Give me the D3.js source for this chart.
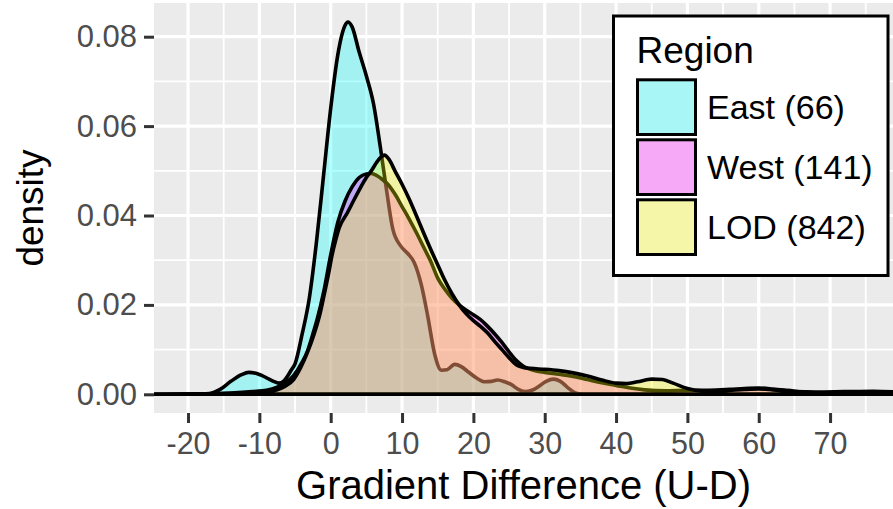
<!DOCTYPE html>
<html><head><meta charset="utf-8">
<script src="https://cdn.jsdelivr.net/npm/d3@7"></script>
<style>body{margin:0;background:#fff} svg{display:block} text{font-family:"Liberation Sans",Arial,Helvetica,sans-serif}</style>
</head><body><svg id="chart" width="893" height="509"></svg>
<script>
// ---- data ----
const xTicks = [-20, -10, 0, 10, 20, 30, 40, 50, 60, 70];
const yTicks = [0, 0.02, 0.04, 0.06, 0.08];
const yTickLabels = ["0.00", "0.02", "0.04", "0.06", "0.08"];
const regions = ["East (66)", "West (141)", "LOD (842)"];
const regionColors = ["#00FFFF", "#FF00FF", "#FFFF00"];

const eastX = [-25, -20, -17, -15.5, -14, -12.5, -11.5, -10.5, -9, -8, -7.3, -6.5, -5.5, -5, -4, -3, -2, -1, 0, 1, 2, 2.4, 3, 4, 5, 6, 7, 7.8, 8.7, 9.8, 10.8, 11.7, 12.7, 13.6, 14.6, 15.5, 16.3, 17.4, 18.3, 19.3, 20.5, 21.6, 22.5, 23.4, 24.4, 25.4, 26.3, 27.2, 28.2, 29.1, 30.2, 31.2, 32.2, 33.3, 34.3, 35.5, 80];
const eastY = [0, 0, 0.0002, 0.0011, 0.0029, 0.0044, 0.0049, 0.0047, 0.0037, 0.0029, 0.0025, 0.0031, 0.0055, 0.0068, 0.0135, 0.0215, 0.034, 0.049, 0.064, 0.076, 0.0825, 0.0833, 0.0822, 0.0765, 0.0712, 0.065, 0.0548, 0.046, 0.037, 0.0332, 0.0315, 0.0295, 0.0245, 0.0175, 0.0088, 0.0054, 0.0055, 0.0067, 0.0062, 0.005, 0.0036, 0.0028, 0.0029, 0.0032, 0.0028, 0.0021, 0.0011, 0.0006, 0.0009, 0.0017, 0.0029, 0.0034, 0.0029, 0.0014, 0.0003, 0, 0];

const westX = [-25, -18, -14, -11, -9, -7.5, -6.5, -5.2, -4, -3.3, -2.5, -1.9, -1, 0, 1, 2, 3, 4, 5, 5.7, 6.5, 7.3, 8, 9, 10, 11, 12, 13, 14, 15, 16, 17, 18, 19, 20, 21, 22, 23, 24, 25, 26, 27, 28, 30, 32, 34, 36, 38, 40, 42, 44, 47, 50, 53, 56, 58, 60, 62, 64, 67, 70, 74, 80];
const westY = [0, 0.0001, 0.0003, 0.0006, 0.0009, 0.0016, 0.0024, 0.0042, 0.0072, 0.0095, 0.0135, 0.0168, 0.0228, 0.0312, 0.0385, 0.0432, 0.0464, 0.0485, 0.0493, 0.0494, 0.0489, 0.048, 0.047, 0.0448, 0.042, 0.0392, 0.0362, 0.033, 0.0298, 0.026, 0.0235, 0.0215, 0.02, 0.0188, 0.0178, 0.0167, 0.0152, 0.0135, 0.0116, 0.0095, 0.0076, 0.0063, 0.0056, 0.0049, 0.0045, 0.004, 0.0033, 0.0026, 0.002, 0.0014, 0.001, 0.0008, 0.0009, 0.0009, 0.0011, 0.0013, 0.0014, 0.0012, 0.0009, 0.0004, 0.0003, 0.0002, 0.0001];

const lodX = [-25, -18, -12, -9, -7.5, -6.5, -5.2, -4.2, -3.3, -2.3, -1.5, -0.9, -0.3, 0.2, 0.7, 1.2, 2.3, 3.2, 4.2, 5, 5.7, 6.4, 7, 7.5, 8.2, 9, 10, 11, 12, 13, 14, 15, 16, 17, 18, 19, 20, 21, 22, 23, 24, 25, 26, 27, 28, 30, 32, 34, 36, 38, 40, 41.5, 43, 45, 46.5, 48, 50, 52, 55, 58, 60, 62, 65, 68, 72, 76, 80];
const lodY = [0, 0.0001, 0.0003, 0.0006, 0.001, 0.0017, 0.0033, 0.006, 0.0092, 0.0136, 0.018, 0.0224, 0.027, 0.0312, 0.0345, 0.0373, 0.0405, 0.0433, 0.0463, 0.0485, 0.05, 0.0518, 0.053, 0.0535, 0.0525, 0.05, 0.047, 0.0437, 0.04, 0.0362, 0.0325, 0.029, 0.0255, 0.0225, 0.02, 0.018, 0.0165, 0.0152, 0.0137, 0.0118, 0.01, 0.0082, 0.0066, 0.006, 0.0058, 0.0056, 0.0053, 0.0048, 0.0041, 0.0032, 0.0025, 0.0024, 0.0028, 0.0034, 0.0033, 0.0025, 0.0013, 0.0008, 0.0008, 0.0011, 0.0012, 0.001, 0.0006, 0.0005, 0.0006, 0.0007, 0.0005];

const seriesX = [eastX, westX, lodX];
const seriesY = [eastY, westY, lodY];

// ---- layout ----
const svg = d3.select("#chart");
const P = {left: 154, right: 893, top: 3, bottom: 413};
const x = d3.scaleLinear().domain([-24.77, 78.82]).range([P.left, P.right]);
const y = d3.scaleLinear().domain([-0.00418, 0.08754]).range([P.bottom, P.top]);

svg.append("rect").attr("x", P.left).attr("y", P.top)
  .attr("width", P.right - P.left).attr("height", P.bottom - P.top).attr("fill", "#EBEBEB");

const grid = svg.append("g");
const xMinor = d3.range(-25, 80, 10).filter(v => x(v) > P.left && x(v) < P.right);
const yMinor = [0.01, 0.03, 0.05, 0.07];
grid.selectAll(".xm").data(xMinor).join("line")
  .attr("x1", d => x(d)).attr("x2", d => x(d)).attr("y1", P.top).attr("y2", P.bottom)
  .attr("stroke", "#fff").attr("stroke-width", 1.8);
grid.selectAll(".ym").data(yMinor).join("line")
  .attr("y1", d => y(d)).attr("y2", d => y(d)).attr("x1", P.left).attr("x2", P.right)
  .attr("stroke", "#fff").attr("stroke-width", 1.8);
grid.selectAll(".xM").data(xTicks).join("line")
  .attr("x1", d => x(d)).attr("x2", d => x(d)).attr("y1", P.top).attr("y2", P.bottom)
  .attr("stroke", "#fff").attr("stroke-width", 3.2);
grid.selectAll(".yM").data(yTicks).join("line")
  .attr("y1", d => y(d)).attr("y2", d => y(d)).attr("x1", P.left).attr("x2", P.right)
  .attr("stroke", "#fff").attr("stroke-width", 3.2);

svg.append("clipPath").attr("id", "clip").append("rect")
  .attr("x", P.left).attr("y", P.top).attr("width", P.right - P.left).attr("height", P.bottom - P.top);

const area = d3.area()
  .x(d => x(d[0])).y0(y(0)).y1(d => y(d[1]))
  .curve(d3.curveMonotoneX);

const dens = svg.append("g").attr("clip-path", "url(#clip)");
seriesX.forEach((xs, i) => {
  const pts = xs.map((v, j) => [v, seriesY[i][j]]);
  dens.append("path").datum(pts).attr("d", area)
    .attr("fill", regionColors[i]).attr("fill-opacity", 0.3)
    .attr("stroke", "#000").attr("stroke-width", 3.6).attr("stroke-linejoin", "round");
});

// ---- axes ----
const yAxis = svg.append("g").attr("transform", `translate(${P.left},0)`)
  .call(d3.axisLeft(y).tickValues(yTicks).tickFormat((d, i) => yTickLabels[i]).tickSize(10).tickPadding(7));
const xAxis = svg.append("g").attr("transform", `translate(0,${P.bottom})`)
  .call(d3.axisBottom(x).tickValues(xTicks).tickFormat(d => String(d)).tickSize(10).tickPadding(9));
[yAxis, xAxis].forEach(g => {
  g.attr("font-family", null);
  g.select(".domain").remove();
  g.selectAll(".tick line").attr("stroke", "#333").attr("stroke-width", 3);
  g.selectAll(".tick text").attr("fill", "#4D4D4D");
});
yAxis.selectAll(".tick text").attr("font-size", 31);
xAxis.selectAll(".tick text").attr("font-size", 30.5);

svg.append("text").attr("x", (P.left + P.right) / 2).attr("y", 499)
  .attr("text-anchor", "middle").attr("font-size", 40).attr("fill", "#000")
  .text("Gradient Difference (U-D)");
svg.append("text").attr("transform", `translate(43,${(P.top + P.bottom) / 2}) rotate(-90)`)
  .attr("text-anchor", "middle").attr("font-size", 37).attr("fill", "#000")
  .text("density");

// ---- legend ----
const lg = svg.append("g");
lg.append("rect").attr("x", 613.5).attr("y", 16).attr("width", 274.5).attr("height", 259.5)
  .attr("fill", "#fff").attr("stroke", "#000").attr("stroke-width", 3);
lg.append("text").attr("x", 636.5).attr("y", 63).attr("font-size", 37).attr("fill", "#000").text("Region");
regions.forEach((r, i) => {
  const top = 78.3 + i * 60;
  lg.append("rect").attr("x", 637.5).attr("y", top + 1.5).attr("width", 58).attr("height", 54.7)
    .attr("fill", "#F2F2F2");
  lg.append("rect").attr("x", 637.5).attr("y", top + 1.5).attr("width", 58).attr("height", 54.7)
    .attr("fill", regionColors[i]).attr("fill-opacity", 0.3)
    .attr("stroke", "#000").attr("stroke-width", 3);
  lg.append("text").attr("x", 707).attr("y", top + 29 + 11.5).attr("font-size", 34)
    .attr("fill", "#000").text(r);
});
</script></body></html>
